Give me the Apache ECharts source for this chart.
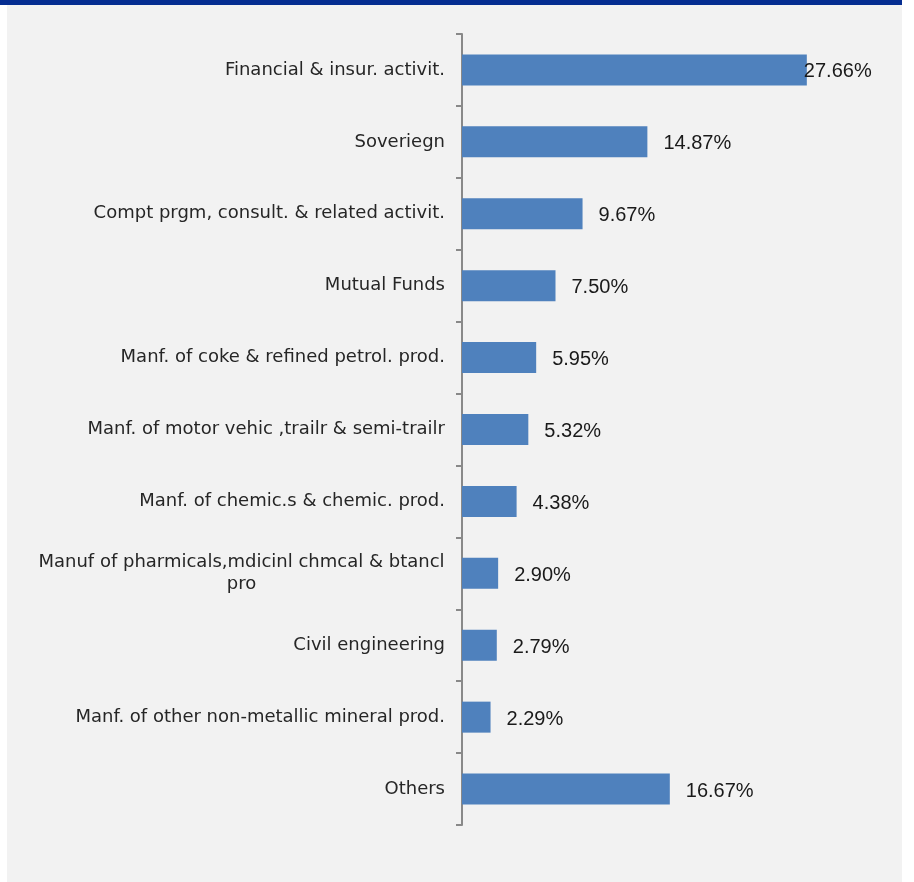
<!DOCTYPE html>
<html>
<head>
<meta charset="utf-8">
<script src="https://cdn.jsdelivr.net/npm/echarts@6/dist/echarts.min.js"></script>
<style>
  html, body { margin: 0; padding: 0; background: #ffffff; }
  #chart { width: 914px; height: 882px; }
</style>
</head>
<body>
<div id="chart"></div>
<script>
// Sector shares, top to bottom
const categories = [
  'Financial & insur. activit.',
  'Soveriegn',
  'Compt prgm, consult. & related activit.',
  'Mutual Funds',
  'Manf. of coke & refined petrol. prod.',
  'Manf. of motor vehic ,trailr & semi-trailr',
  'Manf. of chemic.s & chemic. prod.',
  'Manuf of pharmicals,mdicinl chmcal & btancl pro',
  'Civil engineering',
  'Manf. of other non-metallic mineral prod.',
  'Others'
];
const shares = [27.66, 14.87, 9.67, 7.50, 5.95, 5.32, 4.38, 2.90, 2.79, 2.29, 16.67];

const chart = echarts.init(document.getElementById('chart'), null, { renderer: 'canvas' });

// Wrap long category names onto two lines, each line centred in a fixed box
const LABEL_BOX = 407;
const LABEL_FONT = 'DejaVu Sans';
function wrapLabel(text) {
  if (text.length <= 44) return text;
  const cut = text.lastIndexOf(' ', 44);
  return '{w|' + text.slice(0, cut) + '}\n{w|' + text.slice(cut + 1) + '}';
}

const seriesData = shares.map((v, i) => {
  const item = { value: v };
  if (i === 0) item.label = { distance: -3 };
  return item;
});

chart.setOption({
  backgroundColor: '#ffffff',
  animation: false,
  graphic: [
    { type: 'rect', shape: { x: 7, y: 5, width: 895, height: 877 }, style: { fill: '#f2f2f2' }, z: -10 },
    { type: 'rect', shape: { x: 0, y: 0, width: 902, height: 5 }, style: { fill: '#052d91' }, z: -10 }
  ],
  grid: { left: 462, top: 34, height: 791, width: 374, containLabel: false },
  xAxis: {
    type: 'value', min: 0, max: 30, show: false
  },
  yAxis: {
    type: 'category',
    inverse: true,
    data: categories,
    axisLine: { show: true, lineStyle: { color: '#898989', width: 2 } },
    axisTick: { show: true, length: 6, lineStyle: { color: '#898989', width: 2 } },
    axisLabel: {
      margin: 17,
      color: '#262626',
      fontFamily: LABEL_FONT,
      fontSize: 18,
      lineHeight: 22,
      formatter: wrapLabel,
      rich: {
        w: { width: LABEL_BOX, align: 'center', color: '#262626', fontFamily: LABEL_FONT, fontSize: 18, lineHeight: 22 }
      }
    },
    splitLine: { show: false }
  },
  series: [{
    type: 'bar',
    data: seriesData,
    barWidth: 31,
    itemStyle: { color: '#4f81bd' },
    label: {
      show: true,
      position: 'right',
      distance: 16,
      offset: [0, 2],
      color: '#1a1a1a',
      fontFamily: 'Liberation Sans',
      fontSize: 20,
      formatter: p => p.value.toFixed(2) + '%'
    }
  }]
});
</script>
</body>
</html>
